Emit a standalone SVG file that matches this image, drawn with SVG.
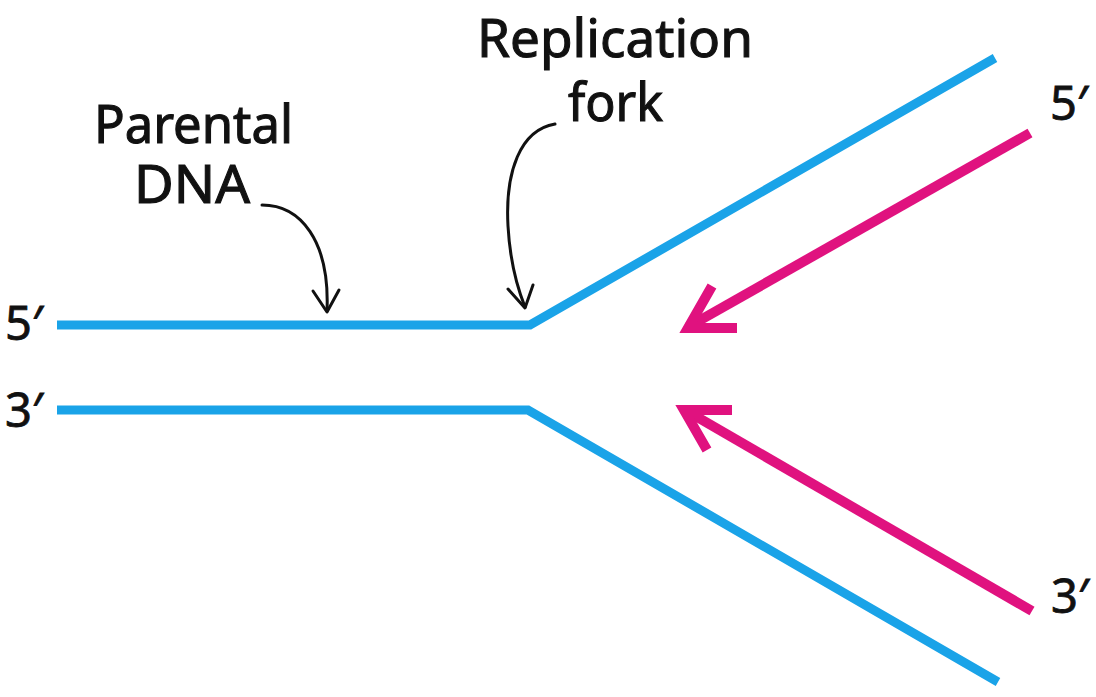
<svg xmlns="http://www.w3.org/2000/svg" width="1096" height="697" viewBox="0 0 1096 697">
<style>
.lbl{font-family:"Noto Sans","Open Sans","Liberation Sans",sans-serif;font-size:53px;fill:#111;stroke:#111;stroke-width:1.1;}
.end{font-family:"Noto Sans","Open Sans","Liberation Sans",sans-serif;font-size:47px;fill:#111;stroke:#111;stroke-width:0.8;}
.dna{fill:none;stroke:#1aa3e8;stroke-width:9;stroke-linejoin:miter;stroke-linecap:butt;}
.new{fill:none;stroke:#e0127f;stroke-width:10;stroke-linecap:butt;}
.head{fill:none;stroke:#e0127f;stroke-width:10;stroke-linejoin:miter;stroke-miterlimit:10;stroke-linecap:butt;}
.ptr{fill:none;stroke:#111;stroke-width:3;stroke-linecap:round;stroke-linejoin:round;}
</style>
<rect width="1096" height="697" fill="#ffffff"/>
<g id="parental-strands">
<path class="dna" d="M57,325 L530,325 L995,58"/>
<path class="dna" d="M57,410 L528,410 L998,682"/>
</g>
<g id="connectors">
<g id="new-strand-top">
<path class="new" d="M1030,133 L688,327"/>
<path class="head" d="M737,328 L688,328 L712,286"/>
</g>
<g id="new-strand-bottom">
<path class="new" d="M1032,611 L685,410"/>
<path class="head" d="M732,410 L684,410 L707,450"/>
</g>
<g id="pointer-parental">
<path class="ptr" d="M262,205 C300,205 330,240 327,311"/>
<path class="ptr" d="M313,291 L327,312 L339,290"/>
</g>
<g id="pointer-fork">
<path class="ptr" d="M555,124 C520,130 505,172 508,226 C510,262 517,287 525,307"/>
<path class="ptr" d="M508,289 L525,308 L533,285"/>
</g>
</g>
<g id="label-parental">
<text class="lbl" x="94" y="143" textLength="199" lengthAdjust="spacingAndGlyphs">Parental</text>
<text class="lbl" x="134" y="203" textLength="116" lengthAdjust="spacingAndGlyphs">DNA</text>
</g>
<g id="label-fork">
<text class="lbl" x="477" y="57" textLength="276" lengthAdjust="spacingAndGlyphs">Replication</text>
<text class="lbl" x="568" y="121" textLength="95" lengthAdjust="spacingAndGlyphs">fork</text>
</g>
<g id="end-labels">
<text class="end" x="5" y="340">5′</text>
<text class="end" x="5" y="427">3′</text>
<text class="end" x="1050" y="120">5′</text>
<text class="end" x="1051" y="613">3′</text>
</g>
</svg>
